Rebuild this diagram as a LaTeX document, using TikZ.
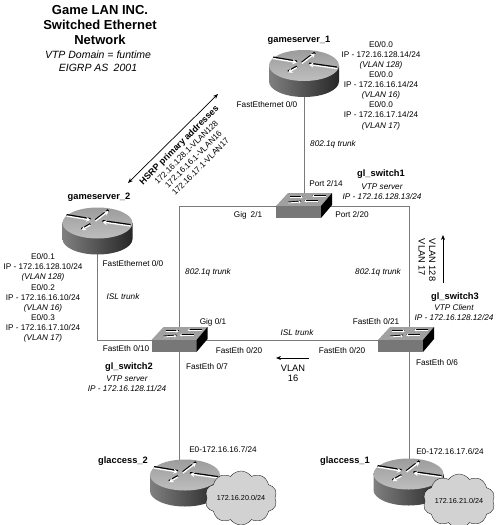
\documentclass[tikz,border=0pt]{standalone}
\usepackage{fontspec}
\setmainfont{Liberation Sans}
\usetikzlibrary{arrows.meta, backgrounds, shapes.symbols}
\definecolor{linkGray}{HTML}{7A7A7A}
\definecolor{routerTopA}{HTML}{9C9C9C}
\definecolor{routerTopB}{HTML}{BEBEBE}
\definecolor{switchTop}{HTML}{A0A0A0}
\definecolor{switchFront}{HTML}{777777}
\definecolor{cloudFill}{HTML}{D2D2D2}
\newcommand{\routerArt}{%
  \begin{scope}[shift={(path picture bounding box.center)}, x=1pt, y=1pt]
    \path[left color=black!50, middle color=white, right color=black!85]
      (-35,8) -- (-35,-8) arc[start angle=180, end angle=360, x radius=35, y radius=15.5] -- (35,8) -- cycle;
    \path[top color=routerTopA, bottom color=routerTopB] (0,8) ellipse[x radius=35, y radius=15.5];
    \foreach \xa/\ya/\xb/\yb in {-31/15/-7/11, -2/10/11/20, 33/5/5/9, -7/6/-16/1} {
      \draw[black, line width=2.2pt] (\xa,\ya+0.9) -- (\xb,\yb+0.9);
      \draw[white, line width=1.4pt, -{Stealth[length=4.5pt, width=5pt]}] (\xa,\ya) -- (\xb,\yb);
    }
  \end{scope}}
\newcommand{\switchArt}{%
  \begin{scope}[shift={(path picture bounding box.center)}, x=1pt, y=1pt]
    \fill[switchTop] (-28,0) -- (-16,13) -- (28,13) -- (17,0) -- cycle;
    \fill[switchFront] (-28,0) rectangle (17,-12);
    \fill[black] (17,0) -- (28,13) -- (28,1) -- (17,-12) -- cycle;
    \foreach \xa/\ya/\xb/\yb in {-14/9/-1/9, 22/10/8/10, -16/3/-3/4, 14/5/0/5} {
      \draw[black, line width=1.6pt] (\xa,\ya+0.6) -- (\xb,\yb+0.6);
      \draw[white, line width=1pt, -{Stealth[length=2.5pt, width=3pt]}] (\xa,\ya) -- (\xb,\yb);
    }
  \end{scope}}
\tikzset{
  routerbox/.style={rectangle, inner sep=0pt, minimum width=72pt, minimum height=50pt, path picture={\routerArt}},
  switchbox/.style={rectangle, inner sep=0pt, minimum width=58pt, minimum height=28pt, path picture={\switchArt}},
  netcloud/.style={cloud, cloud puffs=10, cloud puff arc=110, aspect=1.5, draw=black, line width=0.3pt, fill=cloudFill,
    inner sep=0pt, minimum width=59pt, minimum height=41pt, font=\fontsize{7.2}{8}\selectfont},
  lbl/.style={inner sep=0pt, align=center, font=\fontsize{8.2}{10.1}\selectfont},
  lblit/.style={lbl, font=\fontsize{8.2}{10.1}\selectfont\itshape},
  lblname/.style={inner sep=0pt, font=\fontsize{9.3}{11}\selectfont\bfseries},
  link/.style={draw=linkGray, line width=0.9pt},
  flow/.style={draw=black, line width=0.7pt, -{Stealth[length=5pt, width=4pt]}}
}
\begin{document}
\begin{tikzpicture}[x=1pt, y=-1pt]
  \useasboundingbox (0,0) rectangle (500,525);
  % title
  \node[inner sep=0pt, align=center, font=\fontsize{13}{15.2}\selectfont\bfseries] (titleMain) at (100,25)
    {Game LAN INC.\\Switched Ethernet\\Network};
  \node[inner sep=0pt, align=center, font=\fontsize{10.5}{12.5}\selectfont\itshape] (titleSub) at (98,61)
    {VTP Domain = funtime\\EIGRP AS\enspace 2001};

  % devices
  \node[routerbox] (gsOne) at (304,73.5) {};
  \node[routerbox] (gsTwo) at (97.5,231) {};
  \node[routerbox] (gaTwo) at (185,483) {};
  \node[routerbox] (gaOne) at (408.5,482) {};
  \node[switchbox] (swOne) at (304,206) {};
  \node[switchbox] (swTwo) at (179.5,340) {};
  \node[switchbox] (swThree) at (406,340) {};
  \coordinate (swThreeDrop) at ([xshift=3pt]swThree.center);
  \node[netcloud] (cloudTwo) at (241,498) {172.16.20.0/24};
  \node[netcloud] (cloudOne) at (459,501) {172.16.21.0/24};

  % links
  \begin{scope}[on background layer]
    \draw[link] (gsOne.center) -- (swOne.center);
    \draw[link] (swOne.center) -| (swTwo.center);
    \draw[link] (swOne.center) -| (swThreeDrop);
    \draw[link] (gsTwo.center) |- (swTwo.center);
    \draw[link] (swTwo.center) -- (swThree.center);
    \draw[link] (swTwo.center) -- (swTwo.center |- gaTwo.center);
    \draw[link] (swThreeDrop) -- (swThreeDrop |- gaOne.center);
  \end{scope}

  % flow arrows
  \coordinate (hsrpA) at (128,183);
  \coordinate (hsrpB) at (218,94);
  \draw[flow, {Stealth[length=5pt, width=4pt]}-{Stealth[length=5pt, width=4pt]}] (hsrpA) -- (hsrpB);
  \coordinate (vlanUpA) at (443,283);
  \coordinate (vlanUpB) at (443,235);
  \draw[flow] (vlanUpA) -- (vlanUpB);
  \coordinate (vlanLeftA) at (309,358);
  \coordinate (vlanLeftB) at (276,358);
  \draw[flow] (vlanLeftA) -- (vlanLeftB);

  % device names
  \node[lblname] (nameGsOne) at (299,40) {gameserver\_1};
  \node[lblname] (nameGsTwo) at (99,197) {gameserver\_2};
  \node[lblname] (nameSwOne) at (381,174) {gl\_switch1};
  \node[lblname] (nameSwTwo) at (129,367) {gl\_switch2};
  \node[lblname] (nameSwThree) at (455,297) {gl\_switch3};
  \node[lblname] (nameGaTwo) at (123,461) {glaccess\_2};
  \node[lblname] (nameGaOne) at (345,461) {glaccess\_1};

  % address stacks
  \node[lbl] (addrGsOne) at (381,85.5) {E0/0.0\\IP - 172.16.128.14/24\\\textit{(VLAN 128)}\\E0/0.0\\IP - 172.16.16.14/24\\\textit{(VLAN 16)}\\E0/0.0\\IP - 172.16.17.14/24\\\textit{(VLAN 17)}};
  \node[lbl] (addrGsTwo) at (43,298) {E0/0.1\\IP - 172.16.128.10/24\\\textit{(VLAN 128)}\\E0/0.2\\IP - 172.16.16.10/24\\\textit{(VLAN 16)}\\E0/0.3\\IP - 172.16.17.10/24\\\textit{(VLAN 17)}};
  \node[lblit] (infoSwOne) at (382,192) {VTP server\\IP - 172.16.128.13/24};
  \node[lblit] (infoSwTwo) at (127,384) {VTP server\\IP - 172.16.128.11/24};
  \node[lblit] (infoSwThree) at (454,312.5) {VTP Client\\IP - 172.16.128.12/24};

  % HSRP text
  \node[lbl, rotate=45] (hsrpText) at (189.5,155.5) {{\fontsize{9}{10.1}\selectfont\textbf{HSRP primary addresses}}\\172.16.128.1-VLAN128\\172.16.16.1-VLAN16\\172.16.17.1-VLAN17};

  % port labels
  \node[lbl] (portGsOne) at (267,105) {FastEthernet 0/0};
  \node[lbl] (portGsTwo) at (133,264) {FastEthernet 0/0};
  \node[lbl] (portA) at (326,184) {Port 2/14};
  \node[lbl] (portB) at (352,215) {Port 2/20};
  \node[lbl] (portC) at (248,215) {Gig\enspace 2/1};
  \node[lbl] (portD) at (213,322) {Gig 0/1};
  \node[lbl] (portE) at (126,349) {FastEth 0/10};
  \node[lbl] (portF) at (239,351) {FastEth 0/20};
  \node[lbl] (portG) at (207,367) {FastEth 0/7};
  \node[lbl] (portH) at (376,322) {FastEth 0/21};
  \node[lbl] (portI) at (342,351) {FastEth 0/20};
  \node[lbl] (portJ) at (437,363) {FastEth 0/6};
  \node[lbl] (portK) at (223,450) {E0-172.16.16.7/24};
  \node[lbl] (portL) at (450,452) {E0-172.16.17.6/24};

  % trunk labels
  \node[lblit] (trunkA) at (333,144) {802.1q trunk};
  \node[lblit] (trunkB) at (208,272) {802.1q trunk};
  \node[lblit] (trunkC) at (378,272) {802.1q trunk};
  \node[lblit] (trunkD) at (123,297) {ISL trunk};
  \node[lblit] (trunkE) at (297,333) {ISL trunk};

  % vlan labels
  \node[lbl, font=\fontsize{9.3}{10.5}\selectfont] (vlanLeft) at (293,373.5) {VLAN\\16};
  \node[lbl, font=\fontsize{9.3}{10.5}\selectfont, rotate=-90, align=left] (vlanUp) at (427,260) {VLAN 128\\VLAN 17};
\end{tikzpicture}
\end{document}
